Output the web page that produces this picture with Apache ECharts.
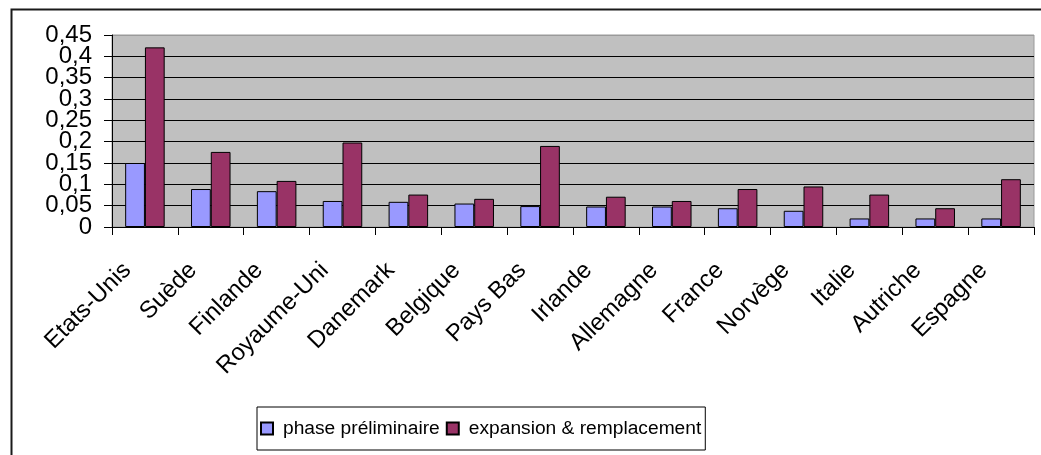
<!DOCTYPE html>
<html>
<head>
<meta charset="utf-8">
<script src="https://cdn.jsdelivr.net/npm/echarts@6/dist/echarts.min.js"></script>
<style>
html,body{margin:0;padding:0;background:#fff;}
#c{width:1041px;height:455px;}
</style>
</head>
<body>
<div id="c"></div>
<script>
const categories = ['Etats-Unis','Suède','Finlande','Royaume-Uni','Danemark','Belgique','Pays Bas','Irlande','Allemagne','France','Norvège','Italie','Autriche','Espagne'];
const seriesNames = ['phase préliminaire','expansion & remplacement'];
const phasePreliminaire = [0.150,0.089,0.084,0.061,0.059,0.055,0.049,0.048,0.048,0.044,0.038,0.020,0.020,0.020];
const expansionRemplacement = [0.421,0.176,0.108,0.198,0.076,0.066,0.190,0.071,0.061,0.089,0.095,0.076,0.044,0.112];
const yTickLabels = ['0','0,05','0,1','0,15','0,2','0,25','0,3','0,35','0,4','0,45'];

const FONT = '"Liberation Sans", Arial, sans-serif';
function yLabel(parity){
  return function(v){
    const i = Math.round(v/0.05);
    return (i % 2 === parity) ? yTickLabels[i] : '';
  };
}
const chart = echarts.init(document.getElementById('c'), null, {renderer:'canvas'});
chart.setOption({
  backgroundColor:'#ffffff',
  animation:false,
  textStyle:{fontFamily:FONT, color:'#000'},
  graphic:[{
    type:'rect', left:9, top:7, silent:true,
    shape:{x:0,y:0,width:1100,height:500},
    style:{fill:'none', stroke:'#1a1a1a', lineWidth:2}
  }],
  grid:{left:112, right:7, top:35, bottom:228, show:true, backgroundColor:'#C0C0C0', borderColor:'#9a9a9a', borderWidth:1},
  legend:{
    left:257, top:407, orient:'horizontal',
    padding:[12,4,12,3], itemGap:6, itemWidth:12, itemHeight:12,
    borderColor:'#000', borderWidth:1, backgroundColor:'#fff',
    icon:'rect',
    textStyle:{fontFamily:FONT, fontSize:19.2, color:'#000', padding:[0,0,0,5]},
    data:seriesNames
  },
  xAxis:{
    type:'category', data:categories,
    axisLine:{lineStyle:{color:'#000', width:1}},
    axisTick:{show:true, length:8, lineStyle:{color:'#000'}, alignWithLabel:false},
    axisLabel:{rotate:45, interval:0, margin:22, fontFamily:FONT, fontSize:24, color:'#000', padding:[0,25,0,0], hideOverlap:false}
  },
  yAxis:[{
    type:'value', min:0, max:0.45, interval:0.05, position:'left',
    axisLine:{show:true, lineStyle:{color:'#000', width:1}},
    axisTick:{show:true, length:8, lineStyle:{color:'#000'}},
    axisLabel:{fontFamily:FONT, fontSize:24, color:'#000', margin:20,
      showMinLabel:true, showMaxLabel:true, formatter:yLabel(0)},
    splitLine:{show:true, lineStyle:{color:['#000','#000','#000','#000','#000','#000','#000','#000','#000','#9a9a9a'], width:1.2}}
  },{
    type:'value', min:0, max:0.45, interval:0.05, position:'left', offset:0,
    axisLine:{show:false}, axisTick:{show:false}, splitLine:{show:false},
    axisLabel:{fontFamily:FONT, fontSize:24, color:'#000', margin:20,
      showMinLabel:true, showMaxLabel:true, formatter:yLabel(1)}
  }],
  series:[
    {name:seriesNames[0], type:'bar', yAxisIndex:0, data:phasePreliminaire, barGap:'0%', barCategoryGap:'40%',
      itemStyle:{color:'#9999FF', borderColor:'#000', borderWidth:1}},
    {name:seriesNames[1], type:'bar', yAxisIndex:0, data:expansionRemplacement, barGap:'0%', barCategoryGap:'40%',
      itemStyle:{color:'#993366', borderColor:'#000', borderWidth:1}}
  ]
});
</script>
</body>
</html>
